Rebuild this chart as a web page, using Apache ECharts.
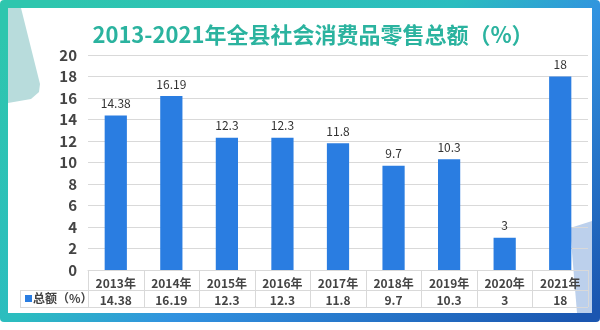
<!DOCTYPE html>
<html>
<head>
<meta charset="utf-8">
<script src="https://cdn.jsdelivr.net/npm/echarts@6/dist/echarts.min.js"></script>
<style>
  html, body { margin: 0; padding: 0; background: #ffffff; }
  #chart { width: 600px; height: 330px; }
</style>
</head>
<body>
<div id="chart"></div>
<script>
// Annual growth of total retail sales of consumer goods, county-wide (%)
const years = ['2013年', '2014年', '2015年', '2016年', '2017年', '2018年', '2019年', '2020年', '2021年'];
const totals = [14.38, 16.19, 12.3, 12.3, 11.8, 9.7, 10.3, 3, 18];
const yTicks = { min: 0, max: 20, interval: 2 };
const seriesName = '总额（%）';
const titleText = '2013-2021年全县社会消费品零售总额（%）';

const FONT = '"Noto Sans CJK SC", "Noto Sans", sans-serif';
const BAR = '#2a7de1';
const LINE = '#d9d9d9';
const TEXT = '#444444';

const chart = echarts.init(document.getElementById('chart'), null, { renderer: 'canvas' });

// frame: gradient border, white panel and two pale corner shapes
const frameGradient = new echarts.graphic.LinearGradient(150, -70, 480, 390, [
  { offset: 0, color: '#2ec6ae' },
  { offset: 0.42, color: '#2bbdbf' },
  { offset: 0.58, color: '#3192e0' },
  { offset: 1, color: '#1a56b0' }
], true);

const frame = [
  { type: 'rect', z: -20, silent: true, shape: { x: 0, y: 0, width: 600, height: 322, r: 4 }, style: { fill: frameGradient } },
  { type: 'rect', z: -19, silent: true, shape: { x: 8, y: 8, width: 584, height: 305 }, style: { fill: '#ffffff' } },
  { type: 'polygon', z: -18, silent: true,
    shape: { points: [[8, 8], [21, 8], [40, 84], [39, 92], [31, 99], [8, 103]], smooth: 0 },
    style: { fill: '#b8dcdc' } },
  { type: 'polygon', z: -18, silent: true,
    shape: { points: [[570, 228], [592, 221], [592, 313], [577, 313]] },
    style: { fill: '#bcd0ec' } }
];

const option = {
  animation: false,
  title: {
    text: titleText,
    left: 308,
    textAlign: 'center',
    top: 19,
    textStyle: { fontFamily: FONT, fontSize: 22, fontWeight: 'bold', color: '#2bb39f' }
  },
  grid: { left: 88, right: 12, top: 55, bottom: 60, containLabel: false },
  xAxis: {
    type: 'category',
    data: years,
    axisLine: { show: true, lineStyle: { color: LINE } },
    axisTick: { show: false },
    axisLabel: {
      interval: 0,
      margin: 4,
      formatter: (v, i) => '{y|' + v + '}\n{v|' + totals[i] + '}',
      rich: {
        y: { fontFamily: FONT, fontSize: 12, fontWeight: 'bold', color: TEXT, lineHeight: 18 },
        v: { fontFamily: FONT, fontSize: 12, fontWeight: 'bold', color: TEXT, lineHeight: 16 }
      }
    }
  },
  yAxis: {
    type: 'value',
    min: yTicks.min,
    max: yTicks.max,
    interval: yTicks.interval,
    axisLine: { show: false },
    axisTick: { show: false },
    axisLabel: { margin: 11, fontFamily: FONT, fontSize: 15, fontWeight: 'bold', color: TEXT },
    splitLine: { show: true, lineStyle: { color: LINE, width: 1 } }
  },
  series: [{
    name: seriesName,
    type: 'bar',
    data: totals,
    barWidth: '40%',
    itemStyle: { color: BAR },
    label: {
      show: true,
      position: 'top',
      distance: 6,
      fontFamily: FONT,
      fontSize: 12,
      color: '#333333'
    }
  }],
  graphic: frame
};

chart.setOption(option);

// data table grid under the axis, aligned with the category bands
const c0 = chart.convertToPixel({ xAxisIndex: 0 }, years[0]);
const c1 = chart.convertToPixel({ xAxisIndex: 0 }, years[1]);
const band = c1 - c0;
const tLeft = c0 - band / 2;
const tRight = tLeft + band * years.length;
const yTop = chart.convertToPixel({ yAxisIndex: 0 }, 0);
const yMid = yTop + 20;
const yBot = yTop + 37;
const keyLeft = 20;

const lines = [];
const hline = (x1, x2, y) => lines.push({ type: 'line', silent: true, z: 5,
  shape: { x1, y1: Math.round(y) + 0.5, x2, y2: Math.round(y) + 0.5 }, style: { stroke: LINE, lineWidth: 1 } });
const vline = (x, y1, y2) => lines.push({ type: 'line', silent: true, z: 5,
  shape: { x1: Math.round(x) + 0.5, y1, x2: Math.round(x) + 0.5, y2 }, style: { stroke: LINE, lineWidth: 1 } });

hline(keyLeft, tRight, yMid);
hline(keyLeft, tRight, yBot);
for (let i = 0; i <= years.length; i++) vline(tLeft + band * i, yTop, yBot);
vline(keyLeft, yMid, yBot);

// legend key inside the first table cell
lines.push({ type: 'rect', silent: true, z: 6, shape: { x: 25, y: (yMid + yBot) / 2 - 3.5, width: 7, height: 7 }, style: { fill: BAR } });
lines.push({ type: 'text', silent: true, z: 6, x: 33, y: (yMid + yBot) / 2,
  style: { text: seriesName, font: 'bold 12px ' + FONT, fill: TEXT, verticalAlign: 'middle', align: 'left' } });

chart.setOption({ graphic: frame.concat(lines) });
</script>
</body>
</html>
